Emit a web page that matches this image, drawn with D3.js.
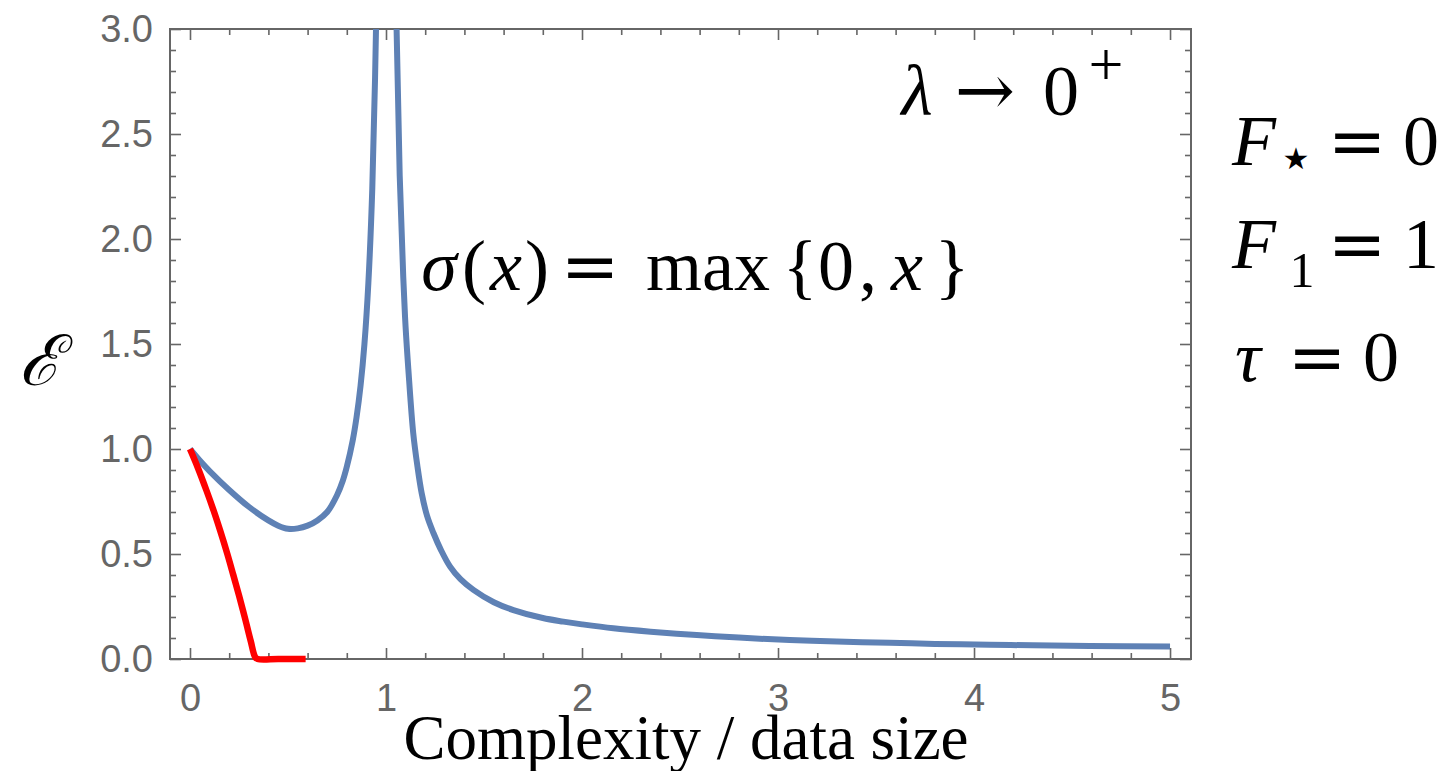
<!DOCTYPE html>
<html>
<head>
<meta charset="utf-8">
<script src="https://cdn.jsdelivr.net/npm/d3@7"></script>
<style>
  html, body { margin: 0; padding: 0; background: #fff; }
</style>
</head>
<body>
<div id="chart"></div>
<script>
// Data
const xTickValues = [0, 1, 2, 3, 4, 5];
const yTickValues = [0, 0.5, 1.0, 1.5, 2.0, 2.5, 3.0];

// blue curve (null = break at the pole)
const blueComplexity = [0, 0.05, 0.1, 0.2, 0.3, 0.4, 0.45, 0.5, 0.55, 0.6, 0.65, 0.7, 0.75, 0.78, 0.8, 0.83, 0.85, 0.87, 0.89, 0.91, 0.93, 0.949, 0.96,
  1.0,
  1.04, 1.054, 1.07, 1.088, 1.1, 1.114, 1.139, 1.16, 1.182, 1.21, 1.242, 1.28, 1.327, 1.38, 1.446, 1.55, 1.65, 1.8, 1.905,
  2.0, 2.16, 2.35, 2.585, 2.8, 3.06, 3.3, 3.57, 3.8, 4.08, 4.3, 4.59, 5.0];
const blueError = [1.0, 0.945, 0.895, 0.805, 0.725, 0.66, 0.635, 0.62, 0.622, 0.635, 0.66, 0.70, 0.78, 0.85, 0.915, 1.04, 1.153, 1.30, 1.50, 1.79, 2.24, 3.0, 3.8,
  null,
  3.9, 3.0, 2.3, 1.82, 1.58, 1.38, 1.075, 0.92, 0.79, 0.68, 0.60, 0.52, 0.44, 0.38, 0.329, 0.27, 0.233, 0.195, 0.178,
  0.165, 0.146, 0.13, 0.114, 0.102, 0.090, 0.083, 0.077, 0.072, 0.068, 0.065, 0.062, 0.059];

// red curve
const redComplexity = [0, 0.04, 0.085, 0.12, 0.153, 0.19, 0.221, 0.25, 0.281, 0.31, 0.332, 0.345, 0.45, 0.59];
const redError = [1.0, 0.911, 0.80, 0.708, 0.614, 0.502, 0.40, 0.303, 0.193, 0.085, 0.01, 0, 0, 0];

const margin = { top: 29, left: 170 },
    width = 1021,
    height = 630;

const svg = d3.select("#chart")
  .append("svg")
    .attr("width", 1450)
    .attr("height", 771)
    .style("font-family", "'Liberation Sans', Arial, sans-serif");

const g = svg.append("g")
    .attr("transform", `translate(${margin.left},${margin.top})`);

const x = d3.scaleLinear().domain([-0.102, 5.107]).range([0, width]);
const y = d3.scaleLinear().domain([0, 3]).range([height, 0]);

const frameColor = "#666666";

// minor ticks
const xMinor = d3.range(0, 5.01, 0.2).filter(v => Math.abs(v - Math.round(v)) > 1e-6);
const yMinor = d3.range(0, 3.01, 0.1).filter(v => Math.abs(v * 2 - Math.round(v * 2)) > 1e-6);

function styleAxis(sel) {
  sel.select(".domain").remove();
  sel.selectAll("line").attr("stroke", frameColor).attr("stroke-width", 1.6);
  sel.selectAll("text").attr("fill", frameColor).style("font-size", "38px")
    .style("font-family", "'Liberation Sans', Arial, sans-serif");
}

// bottom
g.append("g").attr("transform", `translate(0,${height})`)
  .call(d3.axisBottom(x).tickValues(xTickValues).tickSize(-11).tickPadding(25).tickFormat(d3.format("d")))
  .call(styleAxis);
g.append("g").attr("transform", `translate(0,${height})`)
  .call(d3.axisBottom(x).tickValues(xMinor).tickSize(-6).tickFormat(""))
  .call(styleAxis);
// top
g.append("g")
  .call(d3.axisTop(x).tickValues(xTickValues).tickSize(-11).tickFormat(""))
  .call(styleAxis);
g.append("g")
  .call(d3.axisTop(x).tickValues(xMinor).tickSize(-6).tickFormat(""))
  .call(styleAxis);
// left
g.append("g")
  .call(d3.axisLeft(y).tickValues(yTickValues).tickSize(-11).tickPadding(17).tickFormat(d3.format(".1f")))
  .call(styleAxis);
g.append("g")
  .call(d3.axisLeft(y).tickValues(yMinor).tickSize(-6).tickFormat(""))
  .call(styleAxis);
// right
g.append("g").attr("transform", `translate(${width},0)`)
  .call(d3.axisRight(y).tickValues(yTickValues).tickSize(-11).tickFormat(""))
  .call(styleAxis);
g.append("g").attr("transform", `translate(${width},0)`)
  .call(d3.axisRight(y).tickValues(yMinor).tickSize(-6).tickFormat(""))
  .call(styleAxis);

// frame
g.append("rect")
  .attr("width", width)
  .attr("height", height)
  .attr("fill", "none")
  .attr("stroke", frameColor)
  .attr("stroke-width", 2);

// clip
svg.append("defs").append("clipPath").attr("id", "plotclip")
  .append("rect").attr("x", -2).attr("y", 0).attr("width", width + 4).attr("height", height + 6);

const line = d3.line()
  .defined(d => d[1] !== null)
  .x(d => x(d[0]))
  .y(d => y(d[1]))
  .curve(d3.curveCatmullRom.alpha(0.5));

const plot = g.append("g").attr("clip-path", "url(#plotclip)");

plot.append("path")
  .datum(blueComplexity.map((c, i) => [c, blueError[i]]))
  .attr("fill", "none")
  .attr("stroke", "#5E81B5")
  .attr("stroke-width", 6)
  .attr("stroke-linejoin", "round")
  .attr("d", line);

plot.append("path")
  .datum(redComplexity.map((c, i) => [c, redError[i]]))
  .attr("fill", "none")
  .attr("stroke", "#FF0000")
  .attr("stroke-width", 6.5)
  .attr("stroke-linejoin", "round")
  .attr("d", line);

// math labels: each piece is centred on its own x
const serif = "'Liberation Serif', 'Times New Roman', serif";
const wide = "'DejaVu Serif', serif";
function mathLabel(pieces, baseline, size) {
  pieces.forEach(p => {
    const o = p[2] || {};
    svg.append("text")
      .attr("x", p[1])
      .attr("y", baseline + (o.dy || 0))
      .attr("text-anchor", "middle")
      .style("font-family", o.family || serif)
      .style("font-style", o.italic ? "italic" : "normal")
      .style("font-size", (o.size || size) + "px")
      .attr("fill", "#000")
      .text(p[0]);
  });
}

const it = { italic: true };
const eq = { family: wide, size: 70 };

mathLabel([["σ", 439, it], ["(", 474], ["x", 506, it], [")", 537], ["=", 590, eq],
  ["max", 708], ["{", 800], ["0", 836], [",", 868], ["x", 907, it], ["}", 952]], 290, 72);

mathLabel([["λ", 917, it], ["→", 985, { family: wide, size: 72 }], ["0", 1061],
  ["+", 1106, { size: 62, dy: -30 }]], 115, 72);

mathLabel([["F", 1254, it], ["★", 1296, { family: "'DejaVu Sans', sans-serif", size: 30, dy: 4 }],
  ["=", 1357, eq], ["0", 1421]], 165, 72);
mathLabel([["F", 1254, it], ["1", 1302, { size: 50, dy: 19 }], ["=", 1357, eq], ["1", 1421]], 268, 72);
mathLabel([["τ", 1248, it], ["=", 1317, eq], ["0", 1381]], 381, 72);

// axis titles
svg.append("text")
  .attr("x", 686)
  .attr("y", 759)
  .attr("text-anchor", "middle")
  .style("font-family", serif)
  .style("font-size", "63px")
  .text("Complexity / data size");

svg.append("text")
  .attr("x", 40)
  .attr("y", 385)
  .attr("text-anchor", "middle")
  .style("font-family", "'DejaVu Serif', serif")
  .style("font-style", "italic")
  .style("font-size", "70px")
  .text("ℰ");
</script>
</body>
</html>
